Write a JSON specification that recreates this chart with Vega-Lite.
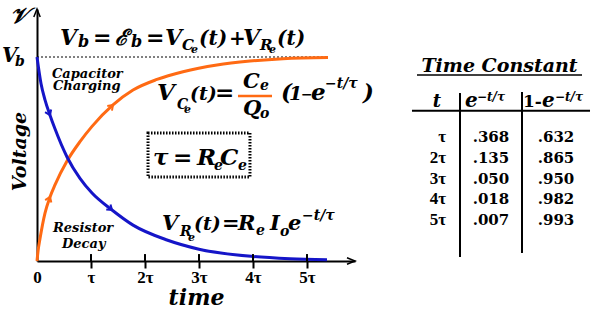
{
"$schema": "https://vega.github.io/schema/vega-lite/v6.json",
"width": 318, "height": 252,
"autosize": {"type": "none"},
"padding": {"left": 37, "top": 9, "right": 241, "bottom": 52},
"background": "white",
"data": {"values": [{}]},
"config": {
 "view": {"stroke": null},
 "axis": {"grid": false},
 "style": {
  "sv": {"font": "DejaVu Serif", "fontStyle": "italic", "fontWeight": "bold", "fontSize": 22, "align": "left", "baseline": "alphabetic", "fill": "#000"},
  "k22": {"font": "DejaVu Serif", "fontStyle": "italic", "fontWeight": "bold", "fontSize": 22, "align": "left", "baseline": "alphabetic", "fill": "#000"},
  "kv": {"font": "DejaVu Serif", "fontStyle": "italic", "fontWeight": "bold", "fontSize": 20, "align": "left", "baseline": "alphabetic", "fill": "#000"},
  "kp": {"font": "DejaVu Serif", "fontStyle": "italic", "fontWeight": "bold", "fontSize": 20, "align": "left", "baseline": "alphabetic", "fill": "#000"},
  "k16": {"font": "DejaVu Serif", "fontStyle": "italic", "fontWeight": "bold", "fontSize": 16, "align": "left", "baseline": "alphabetic", "fill": "#000"},
  "k15": {"font": "DejaVu Serif", "fontStyle": "italic", "fontWeight": "bold", "fontSize": 15, "align": "left", "baseline": "alphabetic", "fill": "#000"},
  "k14": {"font": "DejaVu Serif", "fontStyle": "italic", "fontWeight": "bold", "fontSize": 14, "align": "left", "baseline": "alphabetic", "fill": "#000"},
  "k11": {"font": "DejaVu Serif", "fontStyle": "italic", "fontWeight": "bold", "fontSize": 11, "align": "left", "baseline": "alphabetic", "fill": "#000"},
  "o23": {"font": "DejaVu Serif", "fontStyle": "italic", "fontWeight": "bold", "fontSize": 23, "align": "left", "baseline": "alphabetic", "fill": "#ff6a13"},
  "o21": {"font": "DejaVu Serif", "fontStyle": "italic", "fontWeight": "bold", "fontSize": 21, "align": "left", "baseline": "alphabetic", "fill": "#ff6a13"},
  "op": {"font": "DejaVu Serif", "fontStyle": "italic", "fontWeight": "bold", "fontSize": 19, "align": "left", "baseline": "alphabetic", "fill": "#ff6a13"},
  "o14": {"font": "DejaVu Serif", "fontStyle": "italic", "fontWeight": "bold", "fontSize": 14, "align": "left", "baseline": "alphabetic", "fill": "#ff6a13"},
  "o11": {"font": "DejaVu Serif", "fontStyle": "italic", "fontWeight": "bold", "fontSize": 11, "align": "left", "baseline": "alphabetic", "fill": "#ff6a13"},
  "o13": {"font": "DejaVu Serif", "fontStyle": "italic", "fontWeight": "bold", "fontSize": 13, "align": "left", "baseline": "alphabetic", "fill": "#ff6a13"},
  "b21": {"font": "DejaVu Serif", "fontStyle": "italic", "fontWeight": "bold", "fontSize": 21, "align": "left", "baseline": "alphabetic", "fill": "#1515c8"},
  "bp": {"font": "DejaVu Serif", "fontStyle": "italic", "fontWeight": "bold", "fontSize": 19, "align": "left", "baseline": "alphabetic", "fill": "#1515c8"},
  "b14": {"font": "DejaVu Serif", "fontStyle": "italic", "fontWeight": "bold", "fontSize": 14, "align": "left", "baseline": "alphabetic", "fill": "#1515c8"},
  "b11": {"font": "DejaVu Serif", "fontStyle": "italic", "fontWeight": "bold", "fontSize": 11, "align": "left", "baseline": "alphabetic", "fill": "#1515c8"},
  "b13": {"font": "DejaVu Serif", "fontStyle": "italic", "fontWeight": "bold", "fontSize": 13, "align": "left", "baseline": "alphabetic", "fill": "#1515c8"},
  "m24": {"font": "DejaVu Serif", "fontStyle": "italic", "fontWeight": "bold", "fontSize": 23, "align": "left", "baseline": "alphabetic", "fill": "#c8188e"},
  "m14": {"font": "DejaVu Serif", "fontStyle": "italic", "fontWeight": "bold", "fontSize": 14, "align": "left", "baseline": "alphabetic", "fill": "#c8188e"},
  "tt": {"font": "DejaVu Serif", "fontStyle": "italic", "fontWeight": "bold", "fontSize": 19, "align": "center", "baseline": "alphabetic", "fill": "#000"},
  "hh": {"font": "DejaVu Serif", "fontStyle": "italic", "fontWeight": "bold", "fontSize": 18, "align": "center", "baseline": "alphabetic", "fill": "#000"},
  "he": {"font": "DejaVu Serif", "fontStyle": "italic", "fontWeight": "bold", "fontSize": 20, "align": "left", "baseline": "alphabetic", "fill": "#000"},
  "hs": {"font": "DejaVu Serif", "fontStyle": "italic", "fontWeight": "bold", "fontSize": 12, "align": "left", "baseline": "alphabetic", "fill": "#000"},
  "h1": {"font": "DejaVu Serif", "fontStyle": "normal", "fontWeight": "bold", "fontSize": 17, "align": "left", "baseline": "alphabetic", "fill": "#000"},
  "tv": {"font": "DejaVu Serif", "fontStyle": "normal", "fontWeight": "bold", "fontSize": 15, "align": "center", "baseline": "alphabetic", "fill": "#000"},
  "tl": {"font": "Liberation Serif", "fontStyle": "normal", "fontWeight": "bold", "fontSize": 17, "align": "right", "baseline": "alphabetic", "fill": "#000"}
 }
},
"resolve": {"scale": {"y": "independent"}},
"layer": [
 {"layer": [
  {"mark": {"type": "rect", "fill": "transparent", "stroke": "black", "strokeWidth": 3, "strokeDash": [1.5, 1.5]},
   "encoding": {"x": {"datum": 2.056}, "x2": {"datum": 3.944}, "y": {"datum": 0.6275}, "y2": {"datum": 0.4118}}},
  {"mark": {"type": "rule", "color": "black", "strokeWidth": 1, "strokeDash": [2, 2]},
   "encoding": {"x": {"datum": 0}, "x2": {"datum": 5.37}, "y": {"datum": 1}}},
  {"data": {"values": [
    {"series": "capacitor", "t": 0, "v": 0},
    {"series": "capacitor", "t": 0.02, "v": 0.05},
    {"series": "capacitor", "t": 0.056, "v": 0.11},
    {"series": "capacitor", "t": 0.148, "v": 0.235},
    {"series": "capacitor", "t": 0.241, "v": 0.314},
    {"series": "capacitor", "t": 0.333, "v": 0.373},
    {"series": "capacitor", "t": 0.556, "v": 0.49},
    {"series": "capacitor", "t": 0.796, "v": 0.585},
    {"series": "capacitor", "t": 1.019, "v": 0.66},
    {"series": "capacitor", "t": 1.407, "v": 0.765},
    {"series": "capacitor", "t": 1.778, "v": 0.838},
    {"series": "capacitor", "t": 2.222, "v": 0.89},
    {"series": "capacitor", "t": 2.704, "v": 0.928},
    {"series": "capacitor", "t": 3.333, "v": 0.961},
    {"series": "capacitor", "t": 3.944, "v": 0.98},
    {"series": "capacitor", "t": 4.556, "v": 0.992},
    {"series": "capacitor", "t": 5.389, "v": 0.998},
    {"series": "resistor", "t": 0, "v": 1},
    {"series": "resistor", "t": 0.074, "v": 0.87},
    {"series": "resistor", "t": 0.148, "v": 0.79},
    {"series": "resistor", "t": 0.241, "v": 0.715},
    {"series": "resistor", "t": 0.333, "v": 0.648},
    {"series": "resistor", "t": 0.556, "v": 0.51},
    {"series": "resistor", "t": 0.796, "v": 0.405},
    {"series": "resistor", "t": 1.019, "v": 0.333},
    {"series": "resistor", "t": 1.389, "v": 0.25},
    {"series": "resistor", "t": 1.778, "v": 0.176},
    {"series": "resistor", "t": 2.407, "v": 0.103},
    {"series": "resistor", "t": 3.0, "v": 0.058},
    {"series": "resistor", "t": 4.0, "v": 0.022},
    {"series": "resistor", "t": 4.685, "v": 0.011},
    {"series": "resistor", "t": 5.37, "v": 0.006}
   ]},
   "mark": {"type": "line", "strokeWidth": 3, "interpolate": "monotone"},
   "encoding": {
    "x": {"field": "t", "type": "quantitative", "scale": {"domain": [0, 5.8889], "nice": false, "zero": false},
     "axis": {"values": [0, 1, 2, 3, 4, 5], "labelExpr": "datum.value == 0 ? '0' : (datum.value == 1 ? 'τ' : datum.value + 'τ')",
      "domainColor": "black", "domainWidth": 2, "tickColor": "black", "tickWidth": 2, "tickSize": 7,
      "tickOpacity": {"condition": {"test": "datum.value == 0", "value": 0}, "value": 1},
      "labelFont": "Liberation Serif", "labelFontWeight": "bold", "labelFontSize": 17, "labelColor": "black", "labelPadding": 1, "labelFlush": false, "labelOverlap": false,
      "title": "time", "titleFont": "DejaVu Serif", "titleFontStyle": "italic", "titleFontWeight": "bold", "titleFontSize": 22, "titleColor": "black", "titlePadding": 2}},
    "y": {"field": "v", "type": "quantitative", "scale": {"domain": [0, 1.2353], "nice": false, "zero": false},
     "axis": {"title": "Voltage", "titleFont": "DejaVu Serif", "titleFontStyle": "italic", "titleFontWeight": "bold", "titleFontSize": 19, "titleColor": "black", "titlePadding": 8, "titleY": 142,
      "labels": false, "ticks": false, "domainColor": "black", "domainWidth": 2}},
    "color": {"field": "series", "type": "nominal", "scale": {"domain": ["capacitor", "resistor"], "range": ["#ff6a13", "#1515c8"]}, "legend": null}
   }},
  {"data": {"values": [{"k": 1}, {"k": 2}, {"k": 3}, {"k": 4}, {"k": 5}]},
   "mark": {"type": "rule", "color": "black", "strokeWidth": 2},
   "encoding": {"x": {"field": "k", "type": "quantitative"}, "y": {"datum": 0}, "y2": {"datum": 0.034}}},
  {"mark": {"type": "point", "shape": "M-1,-0.4L0,0L-1,0.4", "filled": false, "stroke": "black", "strokeWidth": 1.5, "size": 256, "opacity": 1},
   "encoding": {"x": {"datum": 5.8889}, "y": {"datum": 0}}},
  {"mark": {"type": "point", "shape": "M-0.4,1L0,0L0.4,1", "filled": false, "stroke": "black", "strokeWidth": 1.5, "size": 256, "opacity": 1},
   "encoding": {"x": {"datum": 0}, "y": {"datum": 1.2353}}},
  {"mark": {"type": "point", "shape": "M-1,-0.7L0,0L-1,0.7", "filled": false, "stroke": "#1515c8", "strokeWidth": 2, "size": 90, "opacity": 1, "angle": 66},
   "encoding": {"x": {"datum": 0.241}, "y": {"datum": 0.715}}},
  {"mark": {"type": "point", "shape": "M-1,-0.7L0,0L-1,0.7", "filled": false, "stroke": "#1515c8", "strokeWidth": 2, "size": 90, "opacity": 1, "angle": 40},
   "encoding": {"x": {"datum": 1.389}, "y": {"datum": 0.25}}},
  {"mark": {"type": "point", "shape": "M-1,-0.7L0,0L-1,0.7", "filled": false, "stroke": "#ff6a13", "strokeWidth": 2, "size": 90, "opacity": 1, "angle": -68},
   "encoding": {"x": {"datum": 0.241}, "y": {"datum": 0.314}}},
  {"mark": {"type": "point", "shape": "M-1,-0.7L0,0L-1,0.7", "filled": false, "stroke": "#ff6a13", "strokeWidth": 2, "size": 90, "opacity": 1, "angle": -45},
   "encoding": {"x": {"datum": 1.407}, "y": {"datum": 0.765}}},
  {"mark": {"type": "rule", "color": "#ff6a13", "strokeWidth": 2.5},
   "encoding": {"x": {"datum": 3.722}, "x2": {"datum": 4.352}, "y": {"datum": 0.809}}},
  {"mark": {"type": "text", "style": "sv", "text": "𝒱"}, "encoding": {"x": {"datum": -0.5}, "y": {"datum": 1.1667}}},
  {"mark": {"type": "text", "style": "kv", "text": "V"}, "encoding": {"x": {"datum": -0.648}, "y": {"datum": 0.9755}}},
  {"mark": {"type": "text", "style": "k14", "text": "b"}, "encoding": {"x": {"datum": -0.407}, "y": {"datum": 0.956}}},
  {"mark": {"type": "text", "style": "k22", "text": "V"}, "encoding": {"x": {"datum": 0.426}, "y": {"datum": 1.0588}}},
  {"mark": {"type": "text", "style": "k16", "text": "b"}, "encoding": {"x": {"datum": 0.759}, "y": {"datum": 1.049}}},
  {"mark": {"type": "text", "style": "k22", "text": "="}, "encoding": {"x": {"datum": 1.037}, "y": {"datum": 1.0588}}},
  {"mark": {"type": "text", "style": "k22", "text": "ℰ"}, "encoding": {"x": {"datum": 1.444}, "y": {"datum": 1.0588}}},
  {"mark": {"type": "text", "style": "k16", "text": "b"}, "encoding": {"x": {"datum": 1.741}, "y": {"datum": 1.049}}},
  {"mark": {"type": "text", "style": "k22", "text": "="}, "encoding": {"x": {"datum": 2.019}, "y": {"datum": 1.0588}}},
  {"mark": {"type": "text", "style": "k22", "text": "V"}, "encoding": {"x": {"datum": 2.370}, "y": {"datum": 1.0588}}},
  {"mark": {"type": "text", "style": "k15", "text": "C"}, "encoding": {"x": {"datum": 2.685}, "y": {"datum": 1.0343}}},
  {"mark": {"type": "text", "style": "k11", "text": "e"}, "encoding": {"x": {"datum": 2.852}, "y": {"datum": 1.0196}}},
  {"mark": {"type": "text", "style": "kp", "text": "(t)"}, "encoding": {"x": {"datum": 3.0}, "y": {"datum": 1.0588}}},
  {"mark": {"type": "text", "style": "kp", "text": "+"}, "encoding": {"x": {"datum": 3.556}, "y": {"datum": 1.0588}}},
  {"mark": {"type": "text", "style": "k22", "text": "V"}, "encoding": {"x": {"datum": 3.815}, "y": {"datum": 1.0588}}},
  {"mark": {"type": "text", "style": "k15", "text": "R"}, "encoding": {"x": {"datum": 4.130}, "y": {"datum": 1.0343}}},
  {"mark": {"type": "text", "style": "k11", "text": "e"}, "encoding": {"x": {"datum": 4.296}, "y": {"datum": 1.0196}}},
  {"mark": {"type": "text", "style": "kp", "text": "(t)"}, "encoding": {"x": {"datum": 4.444}, "y": {"datum": 1.0588}}},
  {"mark": {"type": "text", "style": "o13", "text": "Capacitor"}, "encoding": {"x": {"datum": 0.278}, "y": {"datum": 0.897}}},
  {"mark": {"type": "text", "style": "o13", "text": "Charging"}, "encoding": {"x": {"datum": 0.296}, "y": {"datum": 0.838}}},
  {"mark": {"type": "text", "style": "o23", "text": "V"}, "encoding": {"x": {"datum": 2.222}, "y": {"datum": 0.789}}},
  {"mark": {"type": "text", "style": "o14", "text": "C"}, "encoding": {"x": {"datum": 2.593}, "y": {"datum": 0.745}}},
  {"mark": {"type": "text", "style": "o11", "text": "e"}, "encoding": {"x": {"datum": 2.722}, "y": {"datum": 0.7255}}},
  {"mark": {"type": "text", "style": "op", "text": "(t)"}, "encoding": {"x": {"datum": 2.833}, "y": {"datum": 0.789}}},
  {"mark": {"type": "text", "style": "o23", "text": "="}, "encoding": {"x": {"datum": 3.296}, "y": {"datum": 0.789}}},
  {"mark": {"type": "text", "style": "o21", "text": "C"}, "encoding": {"x": {"datum": 3.815}, "y": {"datum": 0.848}}},
  {"mark": {"type": "text", "style": "o14", "text": "e"}, "encoding": {"x": {"datum": 4.130}, "y": {"datum": 0.838}}},
  {"mark": {"type": "text", "style": "o21", "text": "Q"}, "encoding": {"x": {"datum": 3.815}, "y": {"datum": 0.716}}},
  {"mark": {"type": "text", "style": "o14", "text": "o"}, "encoding": {"x": {"datum": 4.130}, "y": {"datum": 0.701}}},
  {"mark": {"type": "text", "style": "o23", "text": "("}, "encoding": {"x": {"datum": 4.519}, "y": {"datum": 0.789}}},
  {"mark": {"type": "text", "style": "op", "text": "1"}, "encoding": {"x": {"datum": 4.667}, "y": {"datum": 0.789}}},
  {"mark": {"type": "text", "style": "o14", "text": "−"}, "encoding": {"x": {"datum": 4.889}, "y": {"datum": 0.792}}},
  {"mark": {"type": "text", "style": "o23", "text": "e"}, "encoding": {"x": {"datum": 5.074}, "y": {"datum": 0.789}}},
  {"mark": {"type": "text", "style": "o14", "text": "−t/τ"}, "encoding": {"x": {"datum": 5.333}, "y": {"datum": 0.848}}},
  {"mark": {"type": "text", "style": "o23", "text": ")"}, "encoding": {"x": {"datum": 6.037}, "y": {"datum": 0.789}}},
  {"mark": {"type": "text", "style": "b13", "text": "Resistor"}, "encoding": {"x": {"datum": 0.296}, "y": {"datum": 0.142}}},
  {"mark": {"type": "text", "style": "b13", "text": "Decay"}, "encoding": {"x": {"datum": 0.463}, "y": {"datum": 0.0637}}},
  {"mark": {"type": "text", "style": "b21", "text": "V"}, "encoding": {"x": {"datum": 2.315}, "y": {"datum": 0.152}}},
  {"mark": {"type": "text", "style": "b14", "text": "R"}, "encoding": {"x": {"datum": 2.648}, "y": {"datum": 0.1225}}},
  {"mark": {"type": "text", "style": "b11", "text": "e"}, "encoding": {"x": {"datum": 2.796}, "y": {"datum": 0.098}}},
  {"mark": {"type": "text", "style": "bp", "text": "(t)"}, "encoding": {"x": {"datum": 2.907}, "y": {"datum": 0.152}}},
  {"mark": {"type": "text", "style": "b21", "text": "="}, "encoding": {"x": {"datum": 3.426}, "y": {"datum": 0.152}}},
  {"mark": {"type": "text", "style": "b21", "text": "R"}, "encoding": {"x": {"datum": 3.722}, "y": {"datum": 0.152}}},
  {"mark": {"type": "text", "style": "b14", "text": "e"}, "encoding": {"x": {"datum": 4.056}, "y": {"datum": 0.1275}}},
  {"mark": {"type": "text", "style": "b21", "text": "I"}, "encoding": {"x": {"datum": 4.315}, "y": {"datum": 0.152}}},
  {"mark": {"type": "text", "style": "b14", "text": "o"}, "encoding": {"x": {"datum": 4.5}, "y": {"datum": 0.1225}}},
  {"mark": {"type": "text", "style": "b21", "text": "e"}, "encoding": {"x": {"datum": 4.648}, "y": {"datum": 0.152}}},
  {"mark": {"type": "text", "style": "b14", "text": "−t/τ"}, "encoding": {"x": {"datum": 4.907}, "y": {"datum": 0.201}}},
  {"mark": {"type": "text", "style": "m24", "text": "τ"}, "encoding": {"x": {"datum": 2.148}, "y": {"datum": 0.4706}}},
  {"mark": {"type": "text", "style": "m24", "text": "="}, "encoding": {"x": {"datum": 2.519}, "y": {"datum": 0.4706}}},
  {"mark": {"type": "text", "style": "m24", "text": "R"}, "encoding": {"x": {"datum": 2.963}, "y": {"datum": 0.4706}}},
  {"mark": {"type": "text", "style": "m14", "text": "e"}, "encoding": {"x": {"datum": 3.278}, "y": {"datum": 0.446}}},
  {"mark": {"type": "text", "style": "m24", "text": "C"}, "encoding": {"x": {"datum": 3.389}, "y": {"datum": 0.4706}}},
  {"mark": {"type": "text", "style": "m14", "text": "e"}, "encoding": {"x": {"datum": 3.722}, "y": {"datum": 0.446}}}
 ]},
 {"layer": [
  {"data": {"values": [
    {"k": 1, "t": "τ", "e": ".368", "ome": ".632"},
    {"k": 2, "t": "2τ", "e": ".135", "ome": ".865"},
    {"k": 3, "t": "3τ", "e": ".050", "ome": ".950"},
    {"k": 4, "t": "4τ", "e": ".018", "ome": ".982"},
    {"k": 5, "t": "5τ", "e": ".007", "ome": ".993"}
   ]},
   "layer": [
    {"mark": {"type": "text", "style": "tl"},
     "encoding": {"x": {"datum": 7.574}, "y": {"field": "k", "type": "quantitative", "scale": {"domain": [-5.41, 6.735], "reverse": true, "nice": false, "zero": false}, "axis": null}, "text": {"field": "t"}}},
    {"mark": {"type": "text", "style": "tv"},
     "encoding": {"x": {"datum": 8.407}, "y": {"field": "k", "type": "quantitative", "axis": null}, "text": {"field": "e"}}},
    {"mark": {"type": "text", "style": "tv"},
     "encoding": {"x": {"datum": 9.611}, "y": {"field": "k", "type": "quantitative", "axis": null}, "text": {"field": "ome"}}}
   ]},
  {"mark": {"type": "text", "style": "tt", "text": "Time  Constant"}, "encoding": {"x": {"datum": 8.565}, "y": {"datum": -2.373, "axis": null}}},
  {"mark": {"type": "rule", "color": "black", "strokeWidth": 1.5}, "encoding": {"x": {"datum": 7.037}, "x2": {"datum": 10.093}, "y": {"datum": -2.229, "axis": null}}},
  {"mark": {"type": "text", "style": "hh", "text": "t"}, "encoding": {"x": {"datum": 7.407}, "y": {"datum": -0.687, "axis": null}}},
  {"mark": {"type": "text", "style": "he", "text": "e"}, "encoding": {"x": {"datum": 7.926}, "y": {"datum": -0.687, "axis": null}}},
  {"mark": {"type": "text", "style": "hs", "text": "−t/τ"}, "encoding": {"x": {"datum": 8.148}, "y": {"datum": -0.976, "axis": null}}},
  {"mark": {"type": "text", "style": "h1", "text": "1-"}, "encoding": {"x": {"datum": 9.0}, "y": {"datum": -0.687, "axis": null}}},
  {"mark": {"type": "text", "style": "he", "text": "e"}, "encoding": {"x": {"datum": 9.352}, "y": {"datum": -0.687, "axis": null}}},
  {"mark": {"type": "text", "style": "hs", "text": "−t/τ"}, "encoding": {"x": {"datum": 9.593}, "y": {"datum": -0.976, "axis": null}}},
  {"mark": {"type": "rule", "color": "black", "strokeWidth": 2}, "encoding": {"x": {"datum": 6.944}, "x2": {"datum": 10.241}, "y": {"datum": -0.508, "axis": null}}},
  {"mark": {"type": "rule", "color": "black", "strokeWidth": 2}, "encoding": {"x": {"datum": 7.833}, "y": {"datum": -1.361, "axis": null}, "y2": {"datum": 6.542}}},
  {"mark": {"type": "rule", "color": "black", "strokeWidth": 2}, "encoding": {"x": {"datum": 8.981}, "y": {"datum": -1.41, "axis": null}, "y2": {"datum": 6.349}}}
 ]}
]
}
